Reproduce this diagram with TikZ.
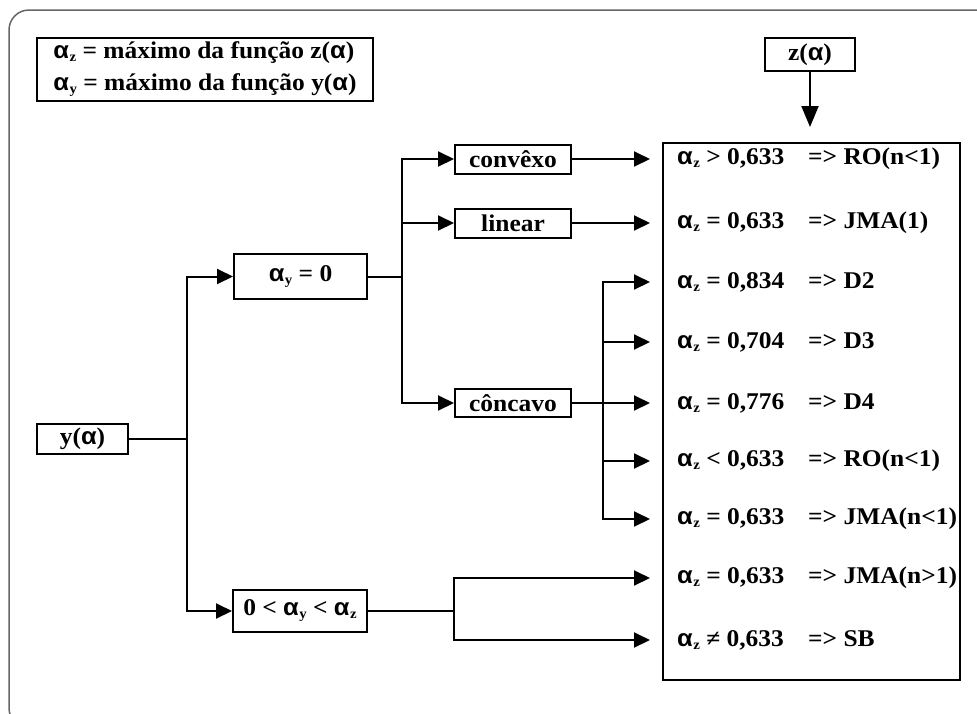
\documentclass[tikz,border=0pt]{standalone}
\usepackage{fontspec}
\setmainfont{Liberation Serif}[FakeStretch=1.06]
\newfontfamily\grk{Liberation Sans}[FakeStretch=1.06]
\usetikzlibrary{arrows.meta,positioning}

\newcommand\alp{{\grk α}}
\newcommand\alsub[1]{\alp\kern0.5pt\raisebox{-3pt}{\fontsize{14}{14}\selectfont #1}}
\newcommand\rowtxt[2]{\makebox[131pt][l]{#1}#2}

\begin{document}
\begin{tikzpicture}[x=1pt,y=-1pt,
  every node/.style={font=\fontsize{24}{32}\selectfont\bfseries},
  box/.style={draw,line width=2pt,inner sep=0pt},
  row/.style={anchor=west,inner sep=0pt},
  flow/.style={line width=2pt},
  arr/.style={flow,-{Triangle[length=16pt,width=15pt]}}
]
\useasboundingbox (0,0) rectangle (977,713);
\draw[gray!80!black,line width=1.5pt,rounded corners=20pt] (9,10) rectangle (995,728);

% legenda e entradas
\node[box,minimum width=336pt,minimum height=63pt,align=left] (leg) at (205,69.5)
  {\alsub{z} = máximo da função z(\alp)\\ \alsub{y} = máximo da função y(\alp)};
\node[box,minimum width=90pt,minimum height=33pt] (zb) at (810,54.5) {z(\alp)};
\node[box,minimum width=91pt,minimum height=30pt] (ya) at (82.5,439) {y(\alp)};

% casos de y
\node[box,minimum width=133pt,minimum height=45pt] (ay0) at (300.5,276.5) {\alsub{y} = 0};
\node[box,minimum width=134pt,minimum height=42pt] (ayz) at (300,611) {0 < \alsub{y} < \alsub{z}};
\node[box,minimum width=116pt,minimum height=29pt] (cvx) at (513,159) {convêxo};
\node[box,minimum width=116pt,minimum height=29pt] (lin) at (513,223) {linear};
\node[box,minimum width=116pt,minimum height=28pt] (conc) at (513,403) {côncavo};

% resultados
\node[box,minimum width=297pt,minimum height=537pt] (res) at (811.5,411.5) {};
\node[row] (r1) at (677,159) {\rowtxt{\alsub{z} > 0,633}{=> RO(n<1)}};
\node[row] (r2) at (677,223) {\rowtxt{\alsub{z} = 0,633}{=> JMA(1)}};
\node[row] (r3) at (677,282) {\rowtxt{\alsub{z} = 0,834}{=> D2}};
\node[row] (r4) at (677,342) {\rowtxt{\alsub{z} = 0,704}{=> D3}};
\node[row] (r5) at (677,403) {\rowtxt{\alsub{z} = 0,776}{=> D4}};
\node[row] (r6) at (677,461) {\rowtxt{\alsub{z} < 0,633}{=> RO(n<1)}};
\node[row] (r7) at (677,519) {\rowtxt{\alsub{z} = 0,633}{=> JMA(n<1)}};
\node[row] (r8) at (677,578) {\rowtxt{\alsub{z} = 0,633}{=> JMA(n>1)}};
\node[row] (r9) at (677,640) {\rowtxt{\alsub{z} ≠ 0,633}{=> SB}};

\coordinate (jy) at (187,439);
\coordinate (ja) at (402,276.5);
\coordinate (jc) at (603,403);
\coordinate (jb) at (454,611);

\draw[arr,-{Triangle[length=21pt,width=17pt]},shorten >=15pt] (zb.south) -- (zb.south |- res.north);

\draw[flow] (ya.east) -- (jy);
\draw[arr] (jy) |- (ay0.west);
\draw[arr] (jy) |- (ayz.west);

\draw[flow] (ay0.east) -- (ja);
\draw[arr] (ja) |- (cvx.west);
\draw[arr] (ja) |- (lin.west);
\draw[arr] (ja) |- (conc.west);
\draw[arr,shorten >=12pt] (cvx.east) -- (cvx.east -| res.west);
\draw[arr,shorten >=12pt] (lin.east) -- (lin.east -| res.west);

\draw[flow] (conc.east) -- (jc);
\foreach \r in {r3,r4,r5,r6,r7}
  \draw[arr,shorten >=12pt] (jc) |- (\r -| res.west);

\draw[flow] (ayz.east) -- (jb);
\draw[arr,shorten >=12pt] (jb) |- (r8 -| res.west);
\draw[arr,shorten >=12pt] (jb) |- (r9 -| res.west);
\end{tikzpicture}
\end{document}
